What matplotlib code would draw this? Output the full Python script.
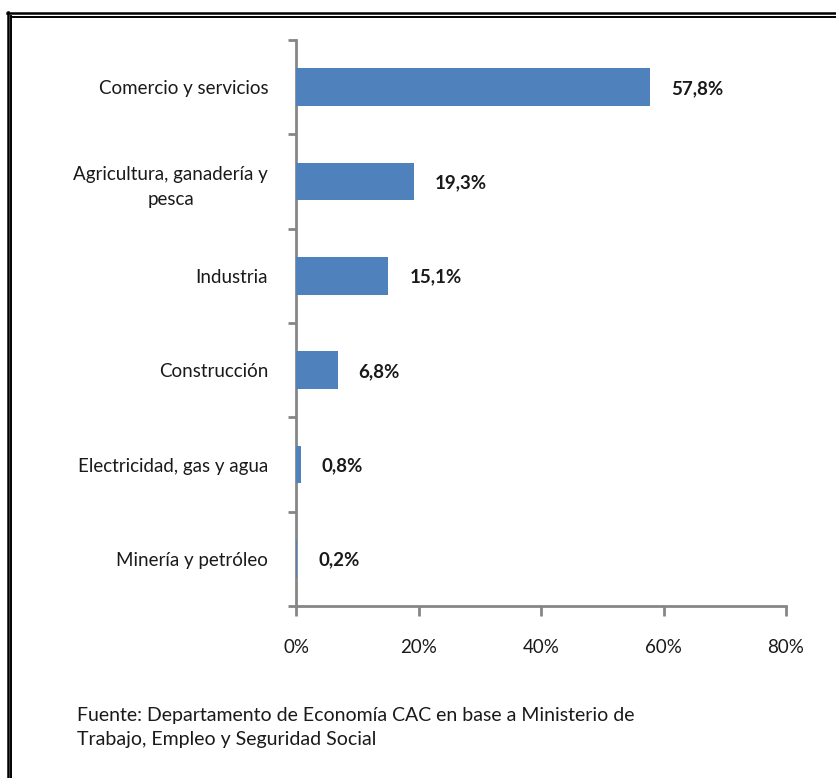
import matplotlib
matplotlib.use("Agg")
import matplotlib.pyplot as plt
from matplotlib.lines import Line2D
from matplotlib.ticker import FixedLocator

# Data
SECTORS = [
    "Comercio y servicios",
    "Agricultura, ganadería y\npesca",
    "Industria",
    "Construcción",
    "Electricidad, gas y agua",
    "Minería y petróleo",
]
SHARES = [57.8, 19.3, 15.1, 6.8, 0.8, 0.2]
X_TICKS = [0, 20, 40, 60, 80]
SOURCE = ("Fuente: Departamento de Economía CAC en base a Ministerio de\n"
          "Trabajo, Empleo y Seguridad Social")

BAR_COLOR = "#4F81BD"
AXIS_COLOR = "#868686"
TEXT_COLOR = "#1a1a1a"

plt.rcParams.update({
    "font.family": ["Lato", "DejaVu Sans"],
    "font.size": 13.5,
})

W, H = 837, 778
fig = plt.figure(figsize=(W / 100, H / 100), dpi=100)
ax = fig.add_axes([296 / W, 1 - 606 / H, (786 - 296) / W, (606 - 40) / H])

y = list(range(len(SECTORS)))
ax.barh(y, SHARES, height=0.4, color=BAR_COLOR, zorder=3)

ax.set_xlim(0, 80)
ax.set_ylim(len(SECTORS) - 0.5, -0.5)

# value labels
for yi, v in zip(y, SHARES):
    ax.annotate(f"{v:.1f}%".replace(".", ","), xy=(v, yi), xytext=(15, -1),
                textcoords="offset points", ha="left", va="center",
                fontsize=13.5, fontweight="bold", color=TEXT_COLOR)

# axes styling
for side in ("top", "right"):
    ax.spines[side].set_visible(False)
for side in ("left", "bottom"):
    ax.spines[side].set_color(AXIS_COLOR)
    ax.spines[side].set_linewidth(2)

ax.set_xticks(X_TICKS)
ax.set_xticklabels([f"{t}%" for t in X_TICKS])
ax.tick_params(axis="x", direction="out", length=7, width=2, color=AXIS_COLOR,
               pad=17, labelcolor=TEXT_COLOR, labelsize=13.5)

ax.set_yticks(y)
ax.set_yticklabels(SECTORS, multialignment="center", linespacing=1.55)
ax.yaxis.set_minor_locator(FixedLocator([i - 0.5 for i in range(len(SECTORS) + 1)]))
ax.tick_params(axis="y", which="major", length=0, pad=20,
               labelcolor=TEXT_COLOR, labelsize=13.5)
ax.tick_params(axis="y", which="minor", direction="out", length=6, width=2,
               color=AXIS_COLOR)

# source note
fig.text(77 / W, 1 - 728 / H, SOURCE, ha="left", va="center",
         fontsize=14, color=TEXT_COLOR, linespacing=1.5)

# double border (cropped box)
def fy(py):
    return 1 - py / H

fig.add_artist(Line2D([7 / W, 1], [fy(13), fy(13)], transform=fig.transFigure,
                      color="black", linewidth=1.8))
fig.add_artist(Line2D([11 / W, 1], [fy(16.5), fy(16.5)], transform=fig.transFigure,
                      color="black", linewidth=1.4))
fig.add_artist(Line2D([8 / W, 8 / W], [fy(12), 0], transform=fig.transFigure,
                      color="black", linewidth=1.8))
fig.add_artist(Line2D([11.5 / W, 11.5 / W], [fy(16), 0], transform=fig.transFigure,
                      color="black", linewidth=1.4))

fig.savefig("out.png", dpi=100)
